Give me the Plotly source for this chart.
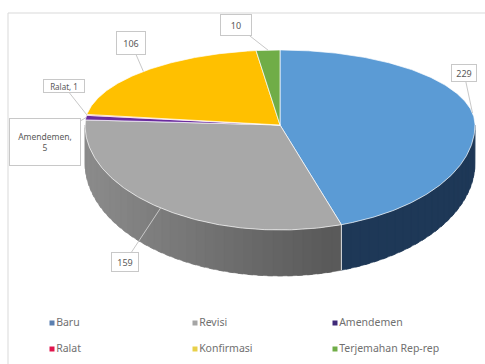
import math
import plotly.graph_objects as go

# ---- data ----
categories = ["Baru", "Revisi", "Amendemen", "Ralat", "Konfirmasi", "Terjemahan Rep-rep"]
values = [229, 159, 5, 1, 106, 10]
label_texts = ["229", "159", "Amendemen,<br>5", "Ralat, 1", "106", "10"]

# ---- style ----
top_colors = ["#5B9BD5", "#A8A8A8", "#6A2C9E", "#E8173F", "#FFC000", "#70AD47"]
side_base = [(43, 79, 122), (125, 125, 125), (80, 30, 120), (170, 20, 45), (190, 140, 0), (80, 130, 50)]
legend_colors = ["#5B7FB0", "#A5A5A5", "#3F2A78", "#E0144C", "#E8D04A", "#70AD47"]

CX, CY, RX, RYB, RYF = 280.0, 125.0, 195.0, 75.0, 105.0

def pt(phi):
    p = math.radians(phi)
    c = math.cos(p)
    ry = RYB if c > 0 else RYF
    return CX + RX * math.sin(p), CY - ry * c

def depth(phi):
    return 38 + 8 * max(0.0, -math.cos(math.radians(phi)))

def arc(a, b, step=1.0):
    n = max(2, int(abs(b - a) / step) + 2)
    return [a + (b - a) * i / (n - 1) for i in range(n)]

total = sum(values)
angles = []
acc = 0.0
for v in values:
    a = acc / total * 360.0
    acc += v
    b = acc / total * 360.0
    angles.append((a, b))

fig = go.Figure()

# ---- side walls (front half only) ----
for i, (a, b) in enumerate(angles):
    s, e = max(a, 90.0), min(b, 270.0)
    if e <= s:
        continue
    phis = arc(s, e, 3.0)
    for k in range(len(phis) - 1):
        p0, p1 = phis[k], phis[k + 1]
        p1x = min(e, p1 + 1.5)
        sub = arc(p0, p1x, 0.5)
        top = [pt(p) for p in sub]
        bot = [(pt(p)[0], pt(p)[1] + depth(p)) for p in reversed(sub)]
        xs = [q[0] for q in top + bot] + [top[0][0]]
        ys = [q[1] for q in top + bot] + [top[0][1]]
        xm = pt((p0 + p1) / 2)[0]
        f = max(0.72, 1.12 - 0.4 * (xm - 85) / 245)
        r, g, bb = [min(255, int(c * f)) for c in side_base[i]]
        col = f"rgb({r},{g},{bb})"
        fig.add_trace(go.Scatter(x=xs, y=ys, fill="toself", fillcolor=col, mode="lines",
                                 line=dict(color=col, width=0.5), hoverinfo="skip", showlegend=False))

# white edges on side at slice boundaries
for (a, b) in angles:
    if 90 < a < 270:
        x0, y0 = pt(a)
        fig.add_trace(go.Scatter(x=[x0, x0], y=[y0, y0 + depth(a)], mode="lines",
                                 line=dict(color="rgba(255,255,255,0.8)", width=1),
                                 hoverinfo="skip", showlegend=False))

# ---- top faces ----
for i, (a, b) in enumerate(angles):
    pts = [pt(p) for p in arc(a, b, 0.5)]
    xs = [CX] + [q[0] for q in pts] + [CX]
    ys = [CY] + [q[1] for q in pts] + [CY]
    fig.add_trace(go.Scatter(x=xs, y=ys, fill="toself", fillcolor=top_colors[i], mode="lines",
                             line=dict(color="rgba(255,255,255,0.85)", width=0.8),
                             name=categories[i], hoverinfo="name", showlegend=False))

# ---- data labels with leader lines ----
label_pos = [(464, 73), (125, 262), (45, 142), (64, 86), (131, 43), (236, 25)]
label_box = [(26, 18), (28, 20), (72, 48), (42, 14), (30, 24), (32, 22)]
label_size = [9, 9, 8.5, 8, 9, 9]
for i, (a, b) in enumerate(angles):
    m = (a + b) / 2
    x0, y0 = pt(m)
    lx, ly = label_pos[i]
    w, h = label_box[i]
    fig.add_annotation(x=x0, y=y0, ax=lx, ay=ly, axref="x", ayref="y", xref="x", yref="y",
                       text=label_texts[i], showarrow=True, arrowhead=0, arrowwidth=1,
                       arrowcolor="#C8C8C8", standoff=0, startstandoff=0,
                       width=w - 2, height=h - 2, align="center", valign="middle",
                       bgcolor="white", bordercolor="#C8C8C8", borderwidth=1, borderpad=0,
                       font=dict(family="Noto Sans", size=label_size[i], color="#595959"))

# ---- legend (manual grid) ----
leg_x = [52, 195, 335]
leg_y = [323, 349]
for i, name in enumerate(categories):
    r, c = divmod(i, 3)
    fig.add_trace(go.Scatter(x=[leg_x[c]], y=[leg_y[r]], mode="markers+text",
                             marker=dict(symbol="square", size=5, color=legend_colors[i]),
                             text=[name], textposition="middle right",
                             textfont=dict(family="Noto Sans", size=10.5, color="#707070"),
                             hoverinfo="skip", showlegend=False))

fig.add_shape(type="rect", x0=8, y0=13, x1=495, y1=375, xref="x", yref="y",
              line=dict(color="#D9D9D9", width=1), layer="below")

fig.update_layout(
    width=485, height=364, margin=dict(l=0, r=0, t=0, b=0),
    paper_bgcolor="white", plot_bgcolor="white",
    xaxis=dict(range=[0, 485], visible=False, fixedrange=True),
    yaxis=dict(range=[364, 0], visible=False, fixedrange=True),
    showlegend=False,
)

fig.write_html("out.html", config={"displayModeBar": False},
               post_script="document.body.style.margin='0';document.body.style.overflow='hidden';")
